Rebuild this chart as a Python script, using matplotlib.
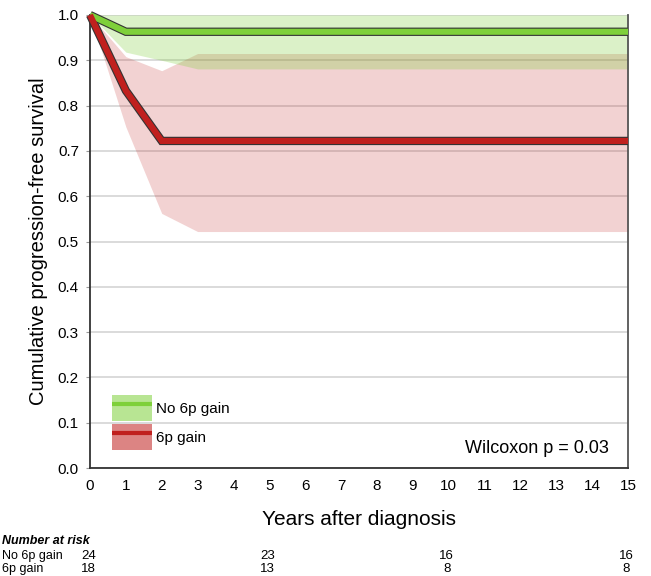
import numpy as np
import matplotlib
matplotlib.use("Agg")
import matplotlib.pyplot as plt
import matplotlib.transforms as mtransforms
from matplotlib.patches import Patch
from matplotlib.lines import Line2D

plt.rcParams.update({"font.family": ["Liberation Sans", "DejaVu Sans"]})

# Kaplan-Meier estimates
years = [0, 1, 2, 3, 15]
no_gain = [1.0, 0.963, 0.963, 0.963, 0.963]
no_gain_lo = [1.0, 0.918, 0.900, 0.881, 0.881]
no_gain_hi = [1.0, 1.0, 1.0, 1.0, 1.0]
gain = [1.0, 0.833, 0.722, 0.722, 0.722]
gain_lo = [1.0, 0.753, 0.562, 0.522, 0.522]
gain_hi = [1.0, 0.908, 0.877, 0.915, 0.915]

risk_groups = ["No 6p gain", "6p gain"]
risk_years = [0, 5, 10, 15]
risk_counts = [[24, 23, 16, 16], [18, 13, 8, 8]]

GREEN, RED = "#7ED03A", "#C0201E"

fig = plt.figure(figsize=(6.51, 5.76), dpi=100)
ax = fig.add_axes([90 / 651, 1 - 468 / 576, (628 - 90) / 651, (468 - 15) / 576])

ax.fill_between(years, gain_lo, gain_hi, color=RED, alpha=0.2, lw=0)
ax.fill_between(years, no_gain_lo, no_gain_hi, color=GREEN, alpha=0.28, lw=0)
for y, c in [(no_gain, GREEN), (gain, RED)]:
    ax.plot(years, y, color="#333333", lw=6.0, solid_joinstyle="miter",
            solid_capstyle="butt", clip_on=False, zorder=3)
    ax.plot(years, y, color=c, lw=4.4, solid_joinstyle="miter",
            solid_capstyle="butt", clip_on=False, zorder=4)

ax.set_xlim(0, 15)
ax.set_ylim(0, 1.0)
ax.set_xticks(range(16))
ax.set_yticks(np.arange(0, 1.01, 0.1))
ax.set_yticklabels([f"{v:.1f}" for v in np.arange(0, 1.01, 0.1)])
ax.grid(axis="y", color="#d4d4d4", lw=1.2)
ax.set_axisbelow(True)
ax.tick_params(axis="both", labelsize=11, length=3, color="#999999", pad=5)
ax.tick_params(axis="x", length=0, pad=8)
ax.spines["top"].set_visible(False)
ax.spines["left"].set_color("#333333")
ax.spines["bottom"].set_color("#333333")
ax.spines["right"].set_color("#555555")
for s in ["left", "bottom", "right"]:
    ax.spines[s].set_linewidth(1.3)

ax.set_ylabel("Cumulative progression-free survival", fontsize=14.5, labelpad=7)
ax.set_xlabel("Years after diagnosis", fontsize=15, labelpad=12)

handles = [
    (Patch(facecolor=GREEN, alpha=0.55, lw=0),
     Line2D([], [], color=GREEN, lw=3, solid_capstyle="butt")),
    (Patch(facecolor=RED, alpha=0.55, lw=0),
     Line2D([], [], color=RED, lw=3, solid_capstyle="butt")),
]
ax.legend(handles, risk_groups, loc="lower left", bbox_to_anchor=(0.015, 0.01),
          frameon=False, fontsize=11, handlelength=2.6, handleheight=2.2,
          handletextpad=0.3, labelspacing=0.2)

ax.text(0.965, 0.025, "Wilcoxon p = 0.03", transform=ax.transAxes, ha="right",
        va="bottom", fontsize=13)

# number at risk table
fig.text(2 / 651, 1 - 541 / 576, "Number at risk", fontsize=9, fontweight="bold",
         fontstyle="italic", va="center")
trans = mtransforms.blended_transform_factory(ax.transData, fig.transFigure)
for i, (g, counts) in enumerate(zip(risk_groups, risk_counts)):
    yy = 1 - (556 + 13 * i) / 576
    fig.text(2 / 651, yy, g, fontsize=9, va="center")
    for yr, n in zip(risk_years, counts):
        ax.text(yr - 0.05, yy, str(n), transform=trans, fontsize=9.5, va="center",
                ha="center", clip_on=False)

fig.savefig("out.png", dpi=100)
